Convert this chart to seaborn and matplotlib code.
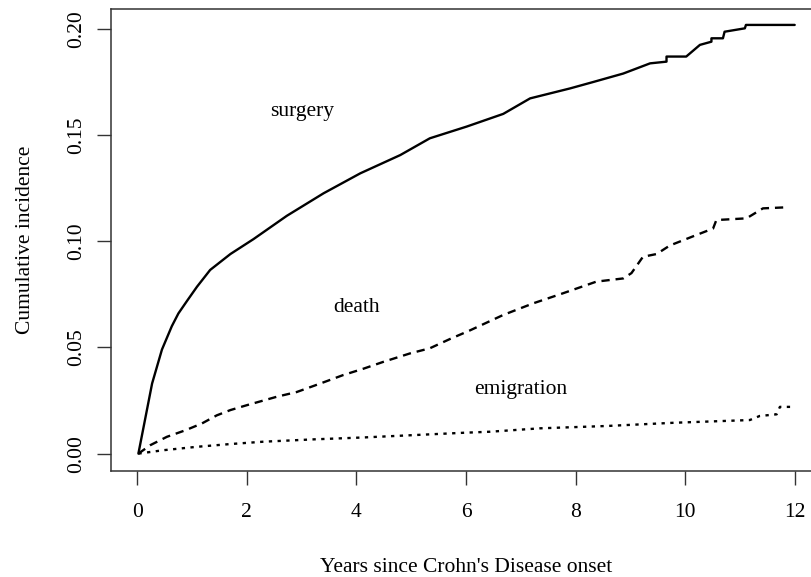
import pandas as pd
import seaborn as sns
import matplotlib.pyplot as plt

# cumulative incidence curves (years, value)
surgery_t = [0.02, 0.27, 0.45, 0.63, 0.75, 0.91, 1.09, 1.33, 1.70, 2.12, 2.73, 3.40, 4.07, 4.80,
             5.34, 6.01, 6.68, 7.17, 7.90, 8.32, 8.87, 9.36, 9.66, 9.66, 10.02, 10.27,
             10.48, 10.48, 10.69, 10.72, 11.09, 11.11, 12.0]
surgery_v = [0.0, 0.033, 0.049, 0.060, 0.066, 0.072, 0.0786, 0.0865, 0.094, 0.101, 0.112, 0.1226, 0.132, 0.1406,
             0.1485, 0.154, 0.160, 0.1673, 0.172, 0.175, 0.179, 0.1838, 0.1846, 0.187, 0.187, 0.1925,
             0.194, 0.1956, 0.1956, 0.1987, 0.2003, 0.2019, 0.2019]

death_t = [0.02, 0.24, 0.54, 0.88, 1.18, 1.45, 1.70, 2.0, 2.55, 2.91, 3.34, 3.76, 4.13,
           4.49, 4.98, 5.34, 5.71, 6.07, 6.68, 7.23, 7.77, 8.38, 8.87, 9.02, 9.23, 9.48,
           9.72, 10.21, 10.51, 10.57, 11.12, 11.42, 11.85]
death_v = [0.0, 0.004, 0.0079, 0.011, 0.0142, 0.018, 0.0205, 0.0228, 0.0268, 0.029, 0.033, 0.037, 0.040,
           0.0432, 0.0472, 0.0496, 0.054, 0.058, 0.0653, 0.0708, 0.0755, 0.081, 0.0825, 0.085, 0.0927, 0.094,
           0.098, 0.103, 0.106, 0.110, 0.1108, 0.1155, 0.116]

emig_t = [0.02, 0.48, 1.09, 1.70, 2.30, 3.22, 4.13, 5.04, 5.95, 6.44, 7.35, 8.57, 9.78,
          11.18, 11.36, 11.67, 11.73, 12.0]
emig_v = [0.0, 0.0016, 0.0032, 0.0045, 0.0056, 0.0067, 0.0076, 0.0087, 0.0098, 0.0103, 0.0119, 0.0130, 0.0145,
          0.0158, 0.0177, 0.0185, 0.022, 0.022]

labels = ['surgery', 'death', 'emigration']
label_x = [3.0, 4.0, 7.0]
label_y = [0.161, 0.0686, 0.030]

sns.set_style('ticks')
plt.rcParams['font.family'] = ['Liberation Serif', 'DejaVu Serif']
plt.rcParams['text.color'] = 'black'
plt.rcParams['axes.labelcolor'] = 'black'
plt.rcParams['xtick.labelcolor'] = 'black'
plt.rcParams['ytick.labelcolor'] = 'black'

fig = plt.figure(figsize=(8.11, 5.77), dpi=100)
ax = fig.add_axes([111 / 811, 106 / 577, 710 / 811, 462 / 577])

surg = pd.DataFrame({'t': surgery_t, 'v': surgery_v})
dth = pd.DataFrame({'t': death_t, 'v': death_v})
emi = pd.DataFrame({'t': emig_t, 'v': emig_v})

sns.lineplot(data=surg, x='t', y='v', sort=False, estimator=None, color='black', lw=1.7, ax=ax)
sns.lineplot(data=dth, x='t', y='v', sort=False, estimator=None, color='black', lw=1.7,
             ax=ax).lines[-1].set_dashes((3.5, 2.5))
sns.lineplot(data=emi, x='t', y='v', sort=False, estimator=None, color='black', lw=1.7,
             ax=ax).lines[-1].set_dashes((1.4, 2.3))

for lab, x, y in zip(labels, label_x, label_y):
    ax.text(x, y, lab, ha='center', va='center', fontsize=15.5)

ax.set_xlim(-0.48, 12.48)
ax.set_ylim(-0.0082, 0.2094)
ax.set_xticks([0, 2, 4, 6, 8, 10, 12])
ax.set_yticks([0.0, 0.05, 0.10, 0.15, 0.20])
ax.set_yticklabels(['0.00', '0.05', '0.10', '0.15', '0.20'], rotation=90, va='center')
ax.tick_params(labelsize=15.5, length=10, width=1, color='#333333', pad=8)
ax.tick_params(axis='x', pad=13)
for s in ax.spines.values():
    s.set_color('#333333')
    s.set_linewidth(1.1)

ax.set_xlabel("Years since Crohn's Disease onset", fontsize=15.5, labelpad=26)
ax.set_ylabel('Cumulative incidence', fontsize=15.5, labelpad=23)

fig.savefig('out.png', dpi=100)
